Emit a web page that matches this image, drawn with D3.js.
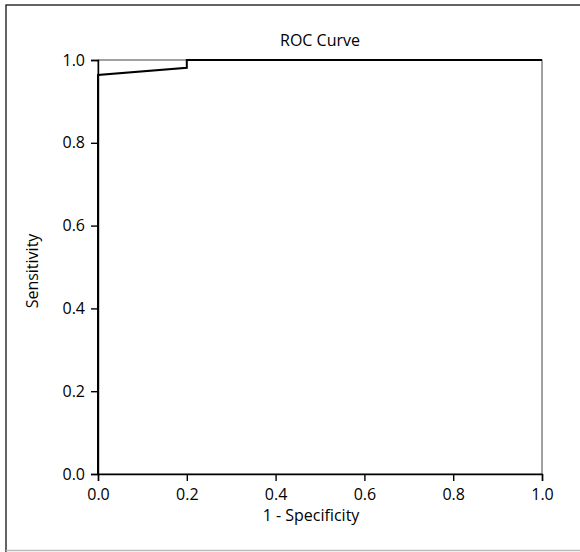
<!DOCTYPE html>
<html>
<head>
<meta charset="utf-8">
<script src="https://cdn.jsdelivr.net/npm/d3@7"></script>
<style>
  body { margin: 0; background: #fff; }
  text { font-family: "Open Sans", "Noto Sans", sans-serif; fill: #000; }
</style>
</head>
<body>
<svg width="580" height="552"></svg>
<script>
'use strict';

// ROC curve points (1 - specificity, sensitivity)
var fpr = [0, 0, 0.2, 0.2, 1.0];
var tpr = [0, 0.964, 0.981, 1.0, 1.0];
var ticks = [0, 0.2, 0.4, 0.6, 0.8, 1.0];

var svg = d3.select('svg');

// outer frame (right edge falls outside the picture)
svg.append('rect')
    .attr('x', 6).attr('y', 5)
    .attr('width', 600).attr('height', 600)
    .attr('fill', 'none')
    .attr('stroke', '#111')
    .attr('stroke-width', 1.3);
svg.append('line')
    .attr('x1', 6).attr('x2', 580)
    .attr('y1', 550.5).attr('y2', 550.5)
    .attr('stroke', '#bbb')
    .attr('stroke-width', 1.5);

var x = d3.scaleLinear().domain([0, 1]).range([98, 542]);
var y = d3.scaleLinear().domain([0, 1]).range([474, 60]);

// plot box
svg.append('rect')
    .attr('x', x(0)).attr('y', y(1))
    .attr('width', x(1) - x(0)).attr('height', y(0) - y(1))
    .attr('fill', 'none')
    .attr('stroke', '#444')
    .attr('stroke-width', 1);

var xAxis = d3.axisBottom(x).tickValues(ticks).tickFormat(d3.format('.1f')).tickSizeOuter(0).tickSize(7).tickPadding(8);
var yAxis = d3.axisLeft(y).tickValues(ticks).tickFormat(d3.format('.1f')).tickSizeOuter(0).tickSize(7).tickPadding(6);

var gx = svg.append('g').attr('transform', 'translate(0,' + y(0) + ')').call(xAxis);
var gy = svg.append('g').attr('transform', 'translate(' + x(0) + ',0)').call(yAxis);

[gx, gy].forEach(function(g){
    g.selectAll('path, line').attr('stroke', '#000').attr('stroke-width', 1.4);
    g.selectAll('text').style('font-size', '16px').attr('fill', '#000');
});

var line = d3.line()
    .x(function(d){ return x(d[0]); })
    .y(function(d){ return y(d[1]); });

svg.append('path')
    .datum(d3.zip(fpr, tpr))
    .attr('d', line)
    .attr('fill', 'none')
    .attr('stroke', '#000')
    .attr('stroke-width', 2);

svg.append('text')
    .attr('x', 320).attr('y', 46)
    .attr('text-anchor', 'middle')
    .style('font-size', '16px')
    .text('ROC Curve');

svg.append('text')
    .attr('x', 311).attr('y', 521)
    .attr('text-anchor', 'middle')
    .style('font-size', '16px')
    .text('1 - Specificity');

svg.append('text')
    .attr('transform', 'translate(38,271) rotate(-90)')
    .attr('text-anchor', 'middle')
    .style('font-size', '16px')
    .text('Sensitivity');
</script>
</body>
</html>
